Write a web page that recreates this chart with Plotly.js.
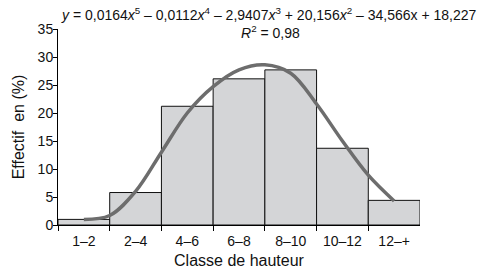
<!DOCTYPE html>
<html>
<head>
<meta charset="utf-8">
<script src="https://cdn.plot.ly/plotly-3.0.1.min.js"></script>
<style>html,body{margin:0;padding:0;background:#fff;}#chart{width:487px;height:276px;}</style>
</head>
<body>
<div id="chart"></div>
<script>
// Data
const categories = ["1–2", "2–4", "4–6", "6–8", "8–10", "10–12", "12–+"];
const effectif = [1.0, 5.8, 21.2, 26.1, 27.7, 13.7, 4.4];
// Trend curve at bar centres and bar boundaries
const curveX = [1, 1.5, 2, 2.5, 3, 3.5, 4, 4.5, 5, 5.5, 6, 6.5, 7];
const curveY = [1.0, 1.7, 6.0, 13.0, 20.0, 24.7, 27.7, 28.6, 27.1, 21.6, 15.0, 8.9, 4.3];
const yTicks = [0, 5, 10, 15, 20, 25, 30, 35];

const font = "Liberation Sans, Arial, Helvetica, sans-serif";
const pos = categories.map((c, i) => i + 1);
const bounds = categories.map((c, i) => i + 0.5);

const traces = [
  {
    type: "bar", x: pos, y: effectif, width: 1,
    marker: {color: "#d4d5d7", line: {color: "#111", width: 1}},
    hoverinfo: "skip", showlegend: false
  },
  {
    type: "scatter", mode: "lines", x: curveX, y: curveY, xaxis: "x",
    line: {color: "#6d6d6d", width: 3.5, shape: "spline", smoothing: 1},
    hoverinfo: "skip", showlegend: false
  },
  {
    type: "scatter", mode: "markers", x: [1], y: [0], xaxis: "x2",
    marker: {opacity: 0}, hoverinfo: "skip", showlegend: false
  }
];

const layout = {
  width: 487, height: 276,
  margin: {l: 58, r: 67, t: 29, b: 51, pad: 0},
  paper_bgcolor: "#fff", plot_bgcolor: "#fff",
  font: {family: font, size: 14, color: "#111"},
  bargap: 0,
  xaxis: {
    range: [0.5, 7.5], tickvals: pos, ticktext: categories,
    ticks: "", showline: true, linecolor: "#000", linewidth: 1,
    showgrid: false, zeroline: false, fixedrange: true,
    tickfont: {size: 14}, ticklabelstandoff: 3,
    title: {text: "Classe de hauteur", font: {size: 16}, standoff: 7}
  },
  xaxis2: {
    overlaying: "x", range: [0.5, 7.5], tickvals: bounds,
    ticks: "outside", ticklen: 5, tickcolor: "#000", tickwidth: 1,
    showticklabels: false, showline: false, showgrid: false, zeroline: false,
    side: "bottom", anchor: "y"
  },
  yaxis: {
    range: [0, 35], tickvals: yTicks, ticks: "outside", ticklen: 4,
    tickcolor: "#000", showline: true, linecolor: "#000", linewidth: 1,
    showgrid: false, zeroline: false, fixedrange: true,
    tickfont: {size: 14}, ticklabelstandoff: -3,
    title: {text: "Effectif  en (%)", font: {size: 16}, standoff: 9}
  },
  annotations: [
    {
      xref: "paper", yref: "paper", x: 0.003, y: 1.0765,
      xanchor: "left", yanchor: "middle", showarrow: false,
      font: {size: 14, color: "#111"},
      text: "<i>y</i> = 0,0164<i>x</i><sup>5</sup> – 0,0112<i>x</i><sup>4</sup> – 2,9407<i>x</i><sup>3</sup> + 20,156<i>x</i><sup>2</sup> – 34,566x + 18,227"
    },
    {
      xref: "paper", yref: "paper", x: 0.5, y: 0.985,
      xanchor: "left", yanchor: "middle", showarrow: false,
      font: {size: 14, color: "#111"},
      text: "<i>R</i><sup>2</sup> = 0,98"
    }
  ]
};

Plotly.newPlot("chart", traces, layout, {displayModeBar: false, staticPlot: true});
</script>
</body>
</html>
